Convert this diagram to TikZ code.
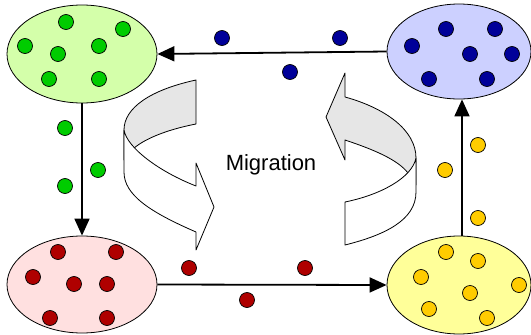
\documentclass[tikz,border=0pt]{standalone}
\usepackage{fontspec}
\setmainfont{Liberation Sans}
\usetikzlibrary{shapes.geometric,arrows.meta,calc}
\definecolor{greenfill}{RGB}{212,255,170}
\definecolor{greendot}{RGB}{0,204,0}
\definecolor{bluefill}{RGB}{204,208,255}
\definecolor{bluedot}{RGB}{0,0,153}
\definecolor{redfill}{RGB}{255,224,224}
\definecolor{reddot}{RGB}{175,0,0}
\definecolor{yellowfill}{RGB}{255,255,153}
\definecolor{yellowdot}{RGB}{255,204,0}
\definecolor{ribbongray}{RGB}{230,230,230}
\begin{document}
\begin{tikzpicture}[x=1pt,y=-1pt,
  pop/.style={ellipse, draw, line width=0.8pt, inner sep=0pt},
  dot/.style={circle, draw, line width=0.7pt, inner sep=0pt, minimum size=15pt},
  link/.style={line width=1.8pt, -{Triangle[length=17pt,width=15pt]}},
  ribbon/.style={draw, line width=0.8pt, line join=round}]
\useasboundingbox (0,0) rectangle (531,335);

% populations
\node[pop, fill=greenfill,  minimum width=150pt, minimum height=98pt] (green)  at (82,54)  {};
\node[pop, fill=bluefill,   minimum width=144pt, minimum height=95pt] (blue)   at (459,51.5) {};
\node[pop, fill=redfill,    minimum width=150pt, minimum height=97pt] (red)    at (82,284.5) {};
\node[pop, fill=yellowfill, minimum width=144pt, minimum height=98pt] (yellow) at (459,285) {};

% migration paths
\draw[link] (blue.west) -- (green.east);
\draw[link] (green.south) -- (red.north);
\draw[link] (red.east) -- (yellow.west);
\draw[link] ($(yellow.north)+(3,0)$) -- ($(blue.south)+(3,0)$);

% individuals
\foreach \p [count=\i] in {(66,22),(123,29),(25,46),(58,54),(99,46),(49,79),(99,79),(65,128),(98,170),(65,186)}
  \node[dot, fill=greendot] (g\i) at \p {};
\foreach \p [count=\i] in {(446,29),(495,29),(412,46),(470,54),(512,54),(429,79),(487,79),(222,38),(340,38),(290,72)}
  \node[dot, fill=bluedot] (b\i) at \p {};
\foreach \p [count=\i] in {(58,252),(116,252),(33,277),(74,284),(107,284),(50,318),(107,318),(189,268),(305,268),(247,300)}
  \node[dot, fill=reddot] (r\i) at \p {};
\foreach \p [count=\i] in {(446,252),(478,261),(421,277),(470,293),(519,285),(429,309),(487,318),(478,145),(445,170),(478,218)}
  \node[dot, fill=yellowdot] (y\i) at \p {};

% left ribbon arrow: inner face
\path[ribbon, fill=ribbongray]
  (196,80) .. controls (150,90) and (124,108) .. (124,130)
  -- (124,160) -- (135,160) -- (132,150)
  .. controls (142,140) and (165,130) .. (196,124) -- cycle;
% left ribbon arrow: outer face with head
\path[ribbon, fill=white]
  (124,130) .. controls (127,148) and (160,172) .. (196,186)
  -- (196,163) -- (214,207) -- (196,250) -- (196,232)
  .. controls (150,212) and (124,195) .. (124,172) -- cycle;

% right ribbon arrow: face with head
\path[ribbon, fill=ribbongray]
  (326,117) -- (345,73) -- (345,97)
  .. controls (385,108) and (416,130) .. (416,158)
  -- (416,185) -- (405,185) -- (408,173)
  .. controls (398,160) and (375,150) .. (345,140)
  -- (345,160) -- cycle;
% right ribbon arrow: flat end face
\path[ribbon, fill=white]
  (416,158) .. controls (412,178) and (380,195) .. (345,202)
  -- (345,245)
  .. controls (385,235) and (416,220) .. (416,192) -- cycle;

\node[anchor=base, font=\fontsize{22}{24}\selectfont, inner sep=0pt] (mig) at (271,170) {Migration};
\end{tikzpicture}
\end{document}
